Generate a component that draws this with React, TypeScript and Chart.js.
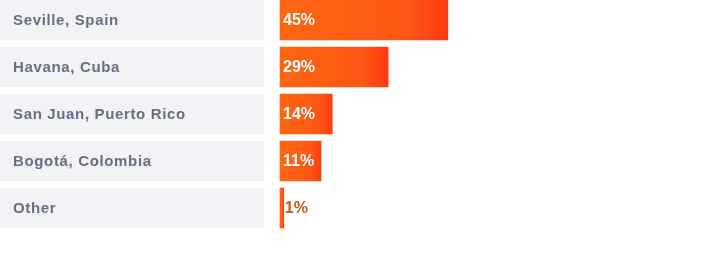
import React, { useEffect, useRef } from "react";
import { Chart, registerables } from "chart.js";

Chart.register(...registerables);

const categories = ["Seville, Spain", "Havana, Cuba", "San Juan, Puerto Rico", "Bogotá, Colombia", "Other"];
const values = [45, 29, 14, 11, 1];
const valueLabels = ["45%", "29%", "14%", "11%", "1%"];

const LABEL_BOX_RIGHT = 264;
const BAR_H = 40;
const FONT = "'Liberation Sans', Arial, sans-serif";

const sidePlugin = {
  id: "sideLabels",
  beforeDatasetsDraw(chart: any) {
    const { ctx } = chart;
    const y = chart.scales.y;
    ctx.save();
    categories.forEach((c, i) => {
      const cy = y.getPixelForValue(i);
      ctx.fillStyle = "#f2f3f7";
      ctx.fillRect(0, cy - BAR_H / 2, LABEL_BOX_RIGHT, BAR_H);
      ctx.fillStyle = "#6b6e83";
      ctx.font = `bold 15px ${FONT}`;
      (ctx as any).letterSpacing = "0.65px";
      ctx.textAlign = "left";
      ctx.textBaseline = "middle";
      ctx.fillText(c, 13, cy + 1);
    });
    (ctx as any).letterSpacing = "0px";
    ctx.restore();
  },
  afterDatasetsDraw(chart: any) {
    const { ctx } = chart;
    const y = chart.scales.y;
    const x = chart.scales.x;
    ctx.save();
    (ctx as any).letterSpacing = "0px";
    valueLabels.forEach((t, i) => {
      const cy = y.getPixelForValue(i);
      const x0 = x.getPixelForValue(0);
      const x1 = x.getPixelForValue(values[i]);
      ctx.font = `bold 16px ${FONT}`;
      const w = ctx.measureText(t).width;
      const inside = x1 - x0 > w + 6;
      ctx.fillStyle = inside ? "#ffffff" : "#c9561c";
      ctx.textAlign = "left";
      ctx.textBaseline = "middle";
      ctx.fillText(t, inside ? x0 + 3 : x1 + 1, cy + 1);
    });
    ctx.restore();
  },
};

export default function App() {
  const ref = useRef<HTMLCanvasElement>(null);
  useEffect(() => {
    document.body.style.margin = "0";
    const chart = new Chart(ref.current!, {
      type: "bar",
      data: {
        labels: categories,
        datasets: [
          {
            data: values,
            barThickness: BAR_H,
            clip: false as any,
            borderWidth: 0,
            borderSkipped: false,
            backgroundColor: (ctx: any) => {
              const c = ctx.chart;
              const xs = c.scales?.x;
              if (!xs || !c.chartArea || ctx.type !== "data") return "#ff5a12";
              const x0 = xs.getPixelForValue(0);
              const x1 = xs.getPixelForValue(values[ctx.dataIndex]);
              const g = c.ctx.createLinearGradient(x0, 0, Math.max(x1, x0 + 1), 0);
              g.addColorStop(0, "#ff6612");
              g.addColorStop(0.75, "#ff5714");
              g.addColorStop(1, "#ff3a12");
              return g;
            },
          },
        ],
      },
      options: {
        indexAxis: "y",
        responsive: false,
        maintainAspectRatio: false,
        animation: false,
        layout: { padding: { left: 280, right: 67, top: 20, bottom: 53 } },
        plugins: { legend: { display: false }, tooltip: { enabled: false } },
        scales: {
          x: { display: false, min: 0, max: 100 },
          y: { display: false, offset: false },
        },
      },
      plugins: [sidePlugin],
    });
    return () => chart.destroy();
  }, []);
  return (
    <div style={{ width: 720, height: 261 }}>
      <canvas ref={ref} width={720} height={261} style={{ display: "block" }} />
    </div>
  );
}
